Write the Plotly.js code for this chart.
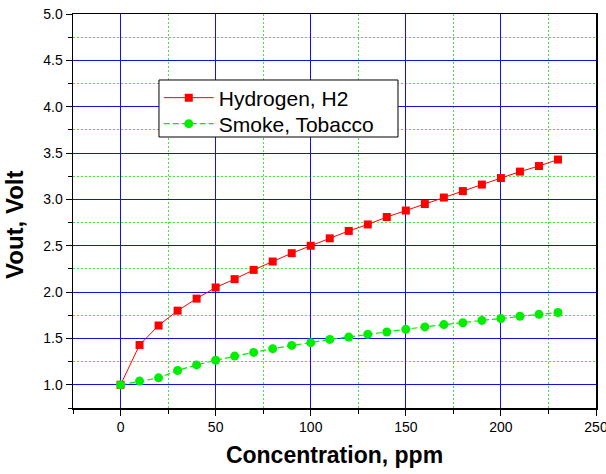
<!DOCTYPE html>
<html>
<head>
<meta charset="utf-8">
<script src="https://cdn.plot.ly/plotly-3.0.1.min.js"></script>
<style>html,body{margin:0;padding:0;background:#fff;}#chart{width:606px;height:474px;}</style>
</head>
<body>
<div id="chart"></div>
<script>
const concentration = [0,10,20,30,40,50,60,70,80,90,100,110,120,130,140,150,160,170,180,190,200,210,220,230];
const hydrogen = [1.00,1.43,1.64,1.80,1.93,2.05,2.14,2.24,2.33,2.42,2.50,2.58,2.66,2.73,2.81,2.88,2.95,3.02,3.09,3.16,3.23,3.30,3.36,3.43];
const smoke = [1.00,1.04,1.075,1.155,1.215,1.265,1.31,1.35,1.39,1.425,1.455,1.49,1.515,1.545,1.57,1.60,1.625,1.65,1.67,1.695,1.715,1.74,1.76,1.78];
const seriesNames = ["Hydrogen, H2", "Smoke, Tobacco"];
const xTitle = 'Concentration, ppm';
const yTitle = 'Vout, Volt';

const FONT = 'Arial, Liberation Sans, sans-serif';

const traces = [
  {x: concentration, y: hydrogen, name: seriesNames[0], type: 'scatter', mode: 'lines+markers', legend: 'legend',
   line: {color: '#ff0000', width: 1}, marker: {symbol: 'square', size: 8, color: '#ff0000'}},
  {x: concentration, y: smoke, name: seriesNames[1], type: 'scatter', mode: 'lines+markers', legend: 'legend2',
   line: {color: '#00ee00', width: 1.2, dash: '6px,3px'}, marker: {symbol: 'circle', size: 9, color: '#00ee00'}}
];

const axisCommon = {
  showline: true, linecolor: '#000', linewidth: 1.5, mirror: true,
  ticks: 'outside', ticklen: 6, tickwidth: 1, tickcolor: '#000',
  showgrid: true, gridcolor: '#1010ff', gridwidth: 1, zeroline: false,
  tickfont: {family: FONT, size: 14, color: '#000'}
};
const minorCommon = {ticks: 'outside', ticklen: 4, tickcolor: '#000', showgrid: true, gridcolor: '#33ee33', griddash: '2px,2px', gridwidth: 1};

const legendCommon = {
  xanchor: 'left', yanchor: 'middle', bgcolor: 'rgba(0,0,0,0)', borderwidth: 0,
  font: {family: FONT, size: 21, color: '#000'}, itemwidth: 50
};

const layout = {
  width: 606, height: 474,
  margin: {l: 73, r: 10, t: 14, b: 66},
  paper_bgcolor: '#fff', plot_bgcolor: '#fff',
  showlegend: true,
  xaxis: Object.assign({}, axisCommon, {
    range: [-25, 250], dtick: 50, tick0: 0, ticklabeloverflow: 'allow',
    minor: Object.assign({dtick: 25, tick0: 0}, minorCommon),
    title: {text: xTitle, font: {family: FONT, size: 23, color: '#000', weight: 'bold'}, standoff: 12}
  }),
  yaxis: Object.assign({}, axisCommon, {
    range: [0.75, 5.0], dtick: 0.5, tick0: 0, tickformat: '.1f',
    minor: Object.assign({dtick: 0.25, tick0: 0}, minorCommon)
  }),
  annotations: [{
    text: yTitle, textangle: -90, xref: 'paper', yref: 'paper',
    x: -0.111, y: 0.4645, xanchor: 'center', yanchor: 'middle', showarrow: false,
    font: {family: FONT, size: 24, color: '#000', weight: 'bold'}
  }],
  shapes: [{
    type: 'rect', xref: 'paper', yref: 'paper', layer: 'above',
    x0: 0.1644, x1: 0.6214, y0: 0.6878, y1: 0.8325,
    fillcolor: '#fff', line: {color: '#000', width: 1}
  }],
  legend: Object.assign({}, legendCommon, {x: 0.164, y: 0.7868}),
  legend2: Object.assign({}, legendCommon, {x: 0.164, y: 0.7208})
};

Plotly.newPlot('chart', traces, layout, {displayModeBar: false, staticPlot: true});
</script>
</body>
</html>
